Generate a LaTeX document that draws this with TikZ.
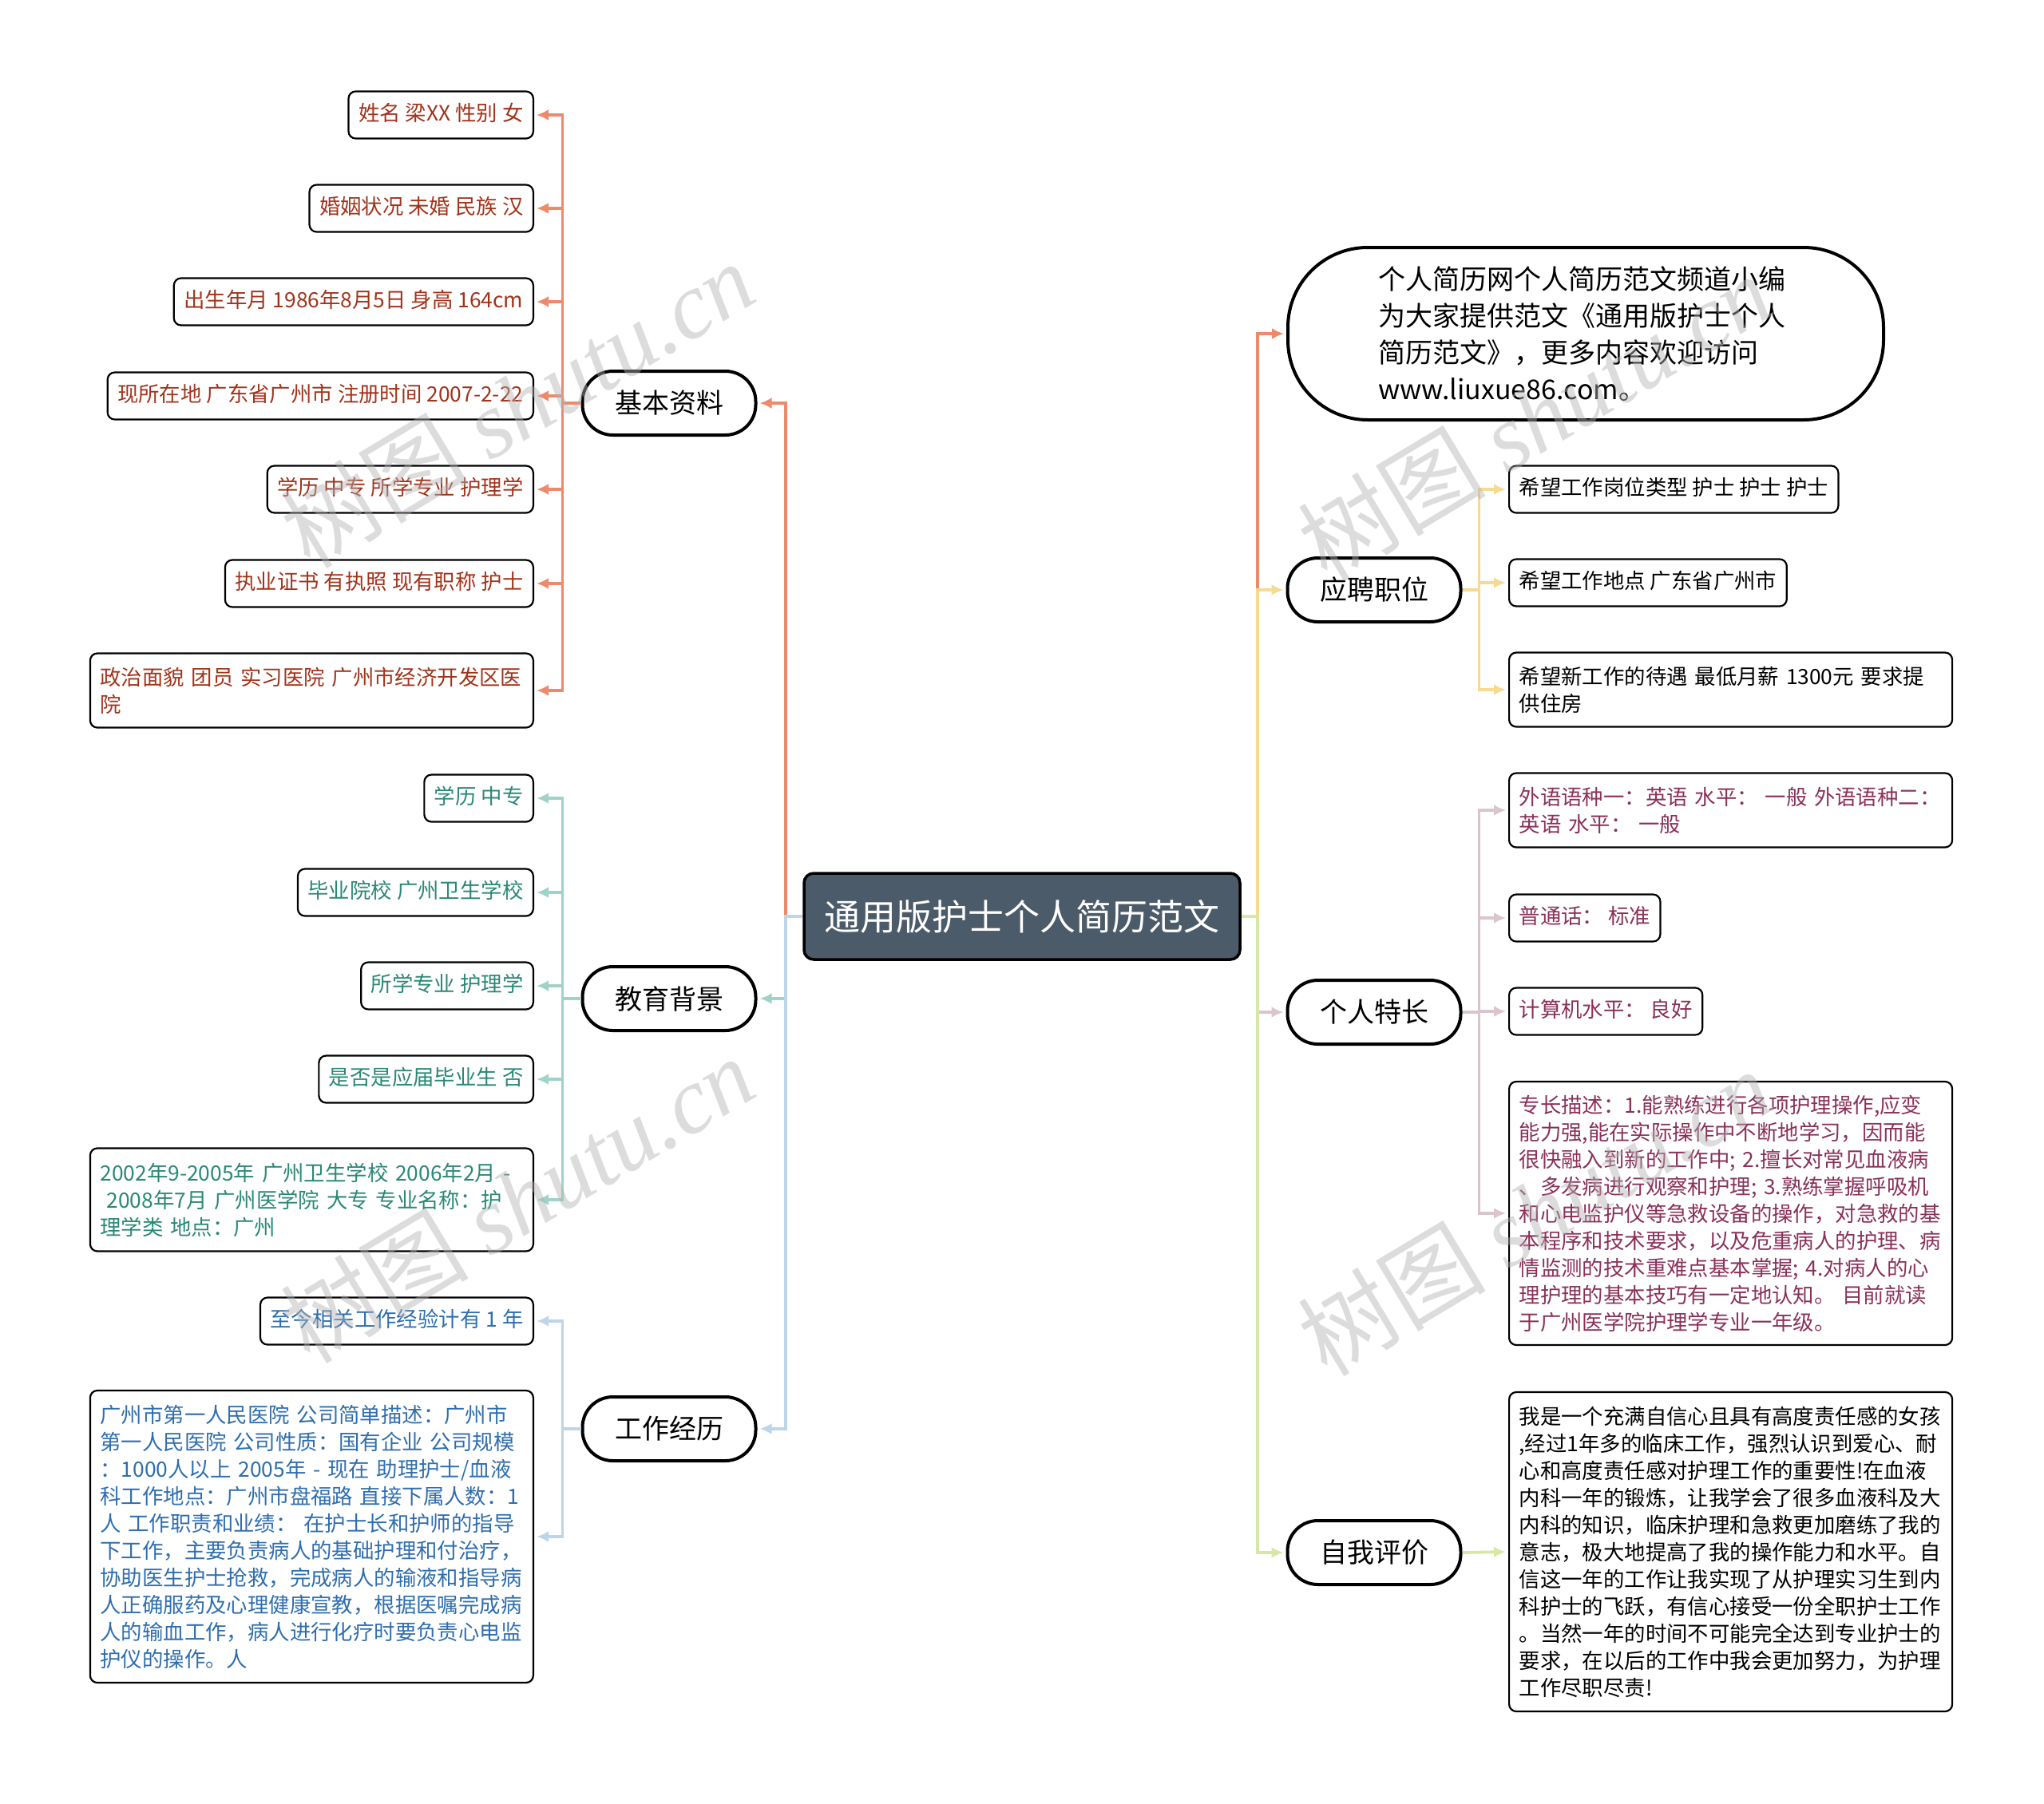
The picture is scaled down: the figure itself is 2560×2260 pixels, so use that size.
\documentclass[tikz,border=0pt]{standalone}
\usepackage{fontspec}
\setmainfont{Noto Sans CJK SC}
\newfontfamily\wmserif{Liberation Serif}
\usetikzlibrary{arrows.meta}

\definecolor{rootfill}{HTML}{4B5B69}
\definecolor{lineorange}{HTML}{EC8A6B}
\definecolor{lineteal}{HTML}{9FD3C7}
\definecolor{lineblue}{HTML}{BED5E8}
\definecolor{lineyellow}{HTML}{F6DA92}
\definecolor{linepink}{HTML}{DAC5CD}
\definecolor{linegreen}{HTML}{D7E7A8}
\definecolor{textred}{HTML}{A2331B}
\definecolor{textteal}{HTML}{2A8876}
\definecolor{textblue}{HTML}{2F6EAE}
\definecolor{textplum}{HTML}{8A3159}

\newcommand{\leaffont}{\fontsize{26.4}{34}\selectfont}
\newcommand{\topicfont}{\fontsize{34}{46}\selectfont}
\newcommand{\rootfont}{\fontsize{45}{54}\selectfont}

\tikzset{
  rootbox/.style={draw=black, line width=3.5pt, rounded corners=12pt, fill=rootfill,
    text=white, font=\rootfont, minimum width=546pt, minimum height=108pt},
  topic/.style={draw=black, line width=4pt, rounded corners=38pt, fill=white,
    font=\topicfont, minimum width=217pt, minimum height=80pt},
  boxbase/.style={draw=black, line width=2.2pt, rounded corners=9pt, fill=white,
    font=\leaffont, inner xsep=12.5pt, inner ysep=8pt, align=left},
  leaf/.style={boxbase, text height=20pt, text depth=6pt, minimum height=59pt},
  wideleaf/.style={boxbase, text width=530pt},
  link/.style={line width=3.8pt, -{Latex[length=15pt,width=14pt]}, shorten >=3pt},
  watermark/.style={text=gray!60, opacity=0.45, rotate=31,
    font=\fontsize{118}{118}\selectfont},
}

\begin{document}
\begin{tikzpicture}[x=1pt,y=-1pt]
\useasboundingbox (0,0) rectangle (2560,2260);

% centre and main topics
\node[rootbox] (root) at (1280,1148) {通用版护士个人简历范文};
\node[topic] (jbzl) at (838,505) {基本资料};
\node[topic] (jybj) at (838,1251) {教育背景};
\node[topic] (gzjl) at (838,1790) {工作经历};
\node[draw=black, line width=4pt, rounded corners=100pt, fill=white, font=\topicfont,
  minimum width=746pt, minimum height=216pt, text width=520pt, align=left]
  (intro) at (1986,418) {个人简历网个人简历范文频道小编\\为大家提供范文《通用版护士个人\\简历范文》，更多内容欢迎访问\\www.liuxue86.com。};
\node[topic] (ypzw) at (1721,739) {应聘职位};
\node[topic] (grtc) at (1721,1268) {个人特长};
\node[topic] (zwpj) at (1721,1945) {自我评价};

% 基本资料
\node[leaf, text=textred, anchor=east] (jb1) at (669,144) {姓名 梁XX 性别 女};
\node[leaf, text=textred, anchor=east] (jb2) at (669,261) {婚姻状况 未婚 民族 汉};
\node[leaf, text=textred, anchor=east] (jb3) at (669,378) {出生年月 1986年8月5日 身高 164cm};
\node[leaf, text=textred, anchor=east] (jb4) at (669,496) {现所在地 广东省广州市 注册时间 2007-2-22};
\node[leaf, text=textred, anchor=east] (jb5) at (669,613) {学历 中专 所学专业 护理学};
\node[leaf, text=textred, anchor=east] (jb6) at (669,731) {执业证书 有执照 现有职称 护士};
\node[wideleaf, text=textred, anchor=east, minimum height=93pt] (jb7) at (669,865)
  {政治面貌 团员 实习医院 广州市经济开发区医\\院};

% 教育背景
\node[leaf, text=textteal, anchor=east] (jy1) at (669,1000) {学历 中专};
\node[leaf, text=textteal, anchor=east] (jy2) at (669,1118) {毕业院校 广州卫生学校};
\node[leaf, text=textteal, anchor=east] (jy3) at (669,1235) {所学专业 护理学};
\node[leaf, text=textteal, anchor=east] (jy4) at (669,1352) {是否是应届毕业生 否};
\node[wideleaf, text=textteal, anchor=east, minimum height=129pt] (jy5) at (669,1503)
  {2002年9-2005年 广州卫生学校 2006年2月 -\\\hspace*{8pt}2008年7月 广州医学院 大专 专业名称：护\\理学类 地点：广州};

% 工作经历
\node[leaf, text=textblue, anchor=east] (gz1) at (669,1655) {至今相关工作经验计有 1 年};
\node[wideleaf, text=textblue, anchor=east, minimum height=366pt] (gz2) at (669,1925)
  {广州市第一人民医院 公司简单描述：广州市\\第一人民医院 公司性质：国有企业 公司规模\\：1000人以上 2005年 - 现在 助理护士/血液\\科工作地点：广州市盘福路 直接下属人数：1\\人 工作职责和业绩： 在护士长和护师的指导\\下工作，主要负责病人的基础护理和付治疗，\\协助医生护士抢救，完成病人的输液和指导病\\人正确服药及心理健康宣教，根据医嘱完成病\\人的输血工作，病人进行化疗时要负责心电监\\护仪的操作。人};

% 应聘职位
\node[leaf, anchor=west] (yp1) at (1889,613) {希望工作岗位类型 护士 护士 护士};
\node[leaf, anchor=west] (yp2) at (1889,730) {希望工作地点 广东省广州市};
\node[wideleaf, anchor=west, minimum height=93pt] (yp3) at (1889,864)
  {希望新工作的待遇 最低月薪 1300元 要求提\\供住房};

% 个人特长
\node[wideleaf, text=textplum, anchor=west, minimum height=93pt] (tc1) at (1889,1015)
  {外语语种一：英语 水平： 一般 外语语种二：\\英语 水平： 一般};
\node[leaf, text=textplum, anchor=west] (tc2) at (1889,1150) {普通话： 标准};
\node[leaf, text=textplum, anchor=west] (tc3) at (1889,1267) {计算机水平： 良好};
\node[wideleaf, text=textplum, anchor=west, minimum height=330pt] (tc4) at (1889,1520)
  {专长描述：1.能熟练进行各项护理操作,应变\\能力强,能在实际操作中不断地学习，因而能\\很快融入到新的工作中; 2.擅长对常见血液病\\、多发病进行观察和护理; 3.熟练掌握呼吸机\\和心电监护仪等急救设备的操作，对急救的基\\本程序和技术要求，以及危重病人的护理、病\\情监测的技术重难点基本掌握; 4.对病人的心\\理护理的基本技巧有一定地认知。 目前就读\\于广州医学院护理学专业一年级。};

% 自我评价
\node[wideleaf, anchor=west, minimum height=400pt] (pj1) at (1889,1944)
  {我是一个充满自信心且具有高度责任感的女孩\\,经过1年多的临床工作，强烈认识到爱心、耐\\心和高度责任感对护理工作的重要性!在血液\\内科一年的锻炼，让我学会了很多血液科及大\\内科的知识，临床护理和急救更加磨练了我的\\意志，极大地提高了我的操作能力和水平。自\\信这一年的工作让我实现了从护理实习生到内\\科护士的飞跃，有信心接受一份全职护士工作\\。当然一年的时间不可能完全达到专业护士的\\要求，在以后的工作中我会更加努力，为护理\\工作尽职尽责!};

% connectors from the centre
\draw[link, lineorange] (root.west) -- ++(-21,0) |- (jbzl.east);
\draw[link, lineteal] (root.west) -- ++(-21,0) |- (jybj.east);
\draw[link, lineblue] (root.west) -- ++(-21,0) |- (gzjl.east);
\draw[link, lineorange] (root.east) -- ++(20,0) |- (intro.west);
\draw[link, lineyellow] (root.east) -- ++(20,0) |- (ypzw.west);
\draw[link, linepink] (root.east) -- ++(20,0) |- (grtc.west);
\draw[link, linegreen] (root.east) -- ++(20,0) |- (zwpj.west);

% connectors to the leaves
\foreach \i in {1,...,7}
  \draw[link, lineorange] (jbzl.west) -- ++(-23,0) |- (jb\i.east);
\foreach \i in {1,...,5}
  \draw[link, lineteal] (jybj.west) -- ++(-23,0) |- (jy\i.east);
\foreach \i in {1,2}
  \draw[link, lineblue] (gzjl.west) -- ++(-23,0) |- (gz\i.east);
\foreach \i in {1,2,3}
  \draw[link, lineyellow] (ypzw.east) -- ++(21,0) |- (yp\i.west);
\foreach \i in {1,...,4}
  \draw[link, linepink] (grtc.east) -- ++(21,0) |- (tc\i.west);
\draw[link, linegreen] (zwpj.east) -- (pj1.west);

% watermarks
\node[watermark] (wm1) at (648,506) {树图 {\wmserif\itshape shutu.cn}};
\node[watermark] (wm2) at (648,1502) {树图 {\wmserif\itshape shutu.cn}};
\node[watermark] (wm3) at (1922,522) {树图 {\wmserif\itshape shutu.cn}};
\node[watermark] (wm4) at (1922,1518) {树图 {\wmserif\itshape shutu.cn}};
\end{tikzpicture}
\end{document}
